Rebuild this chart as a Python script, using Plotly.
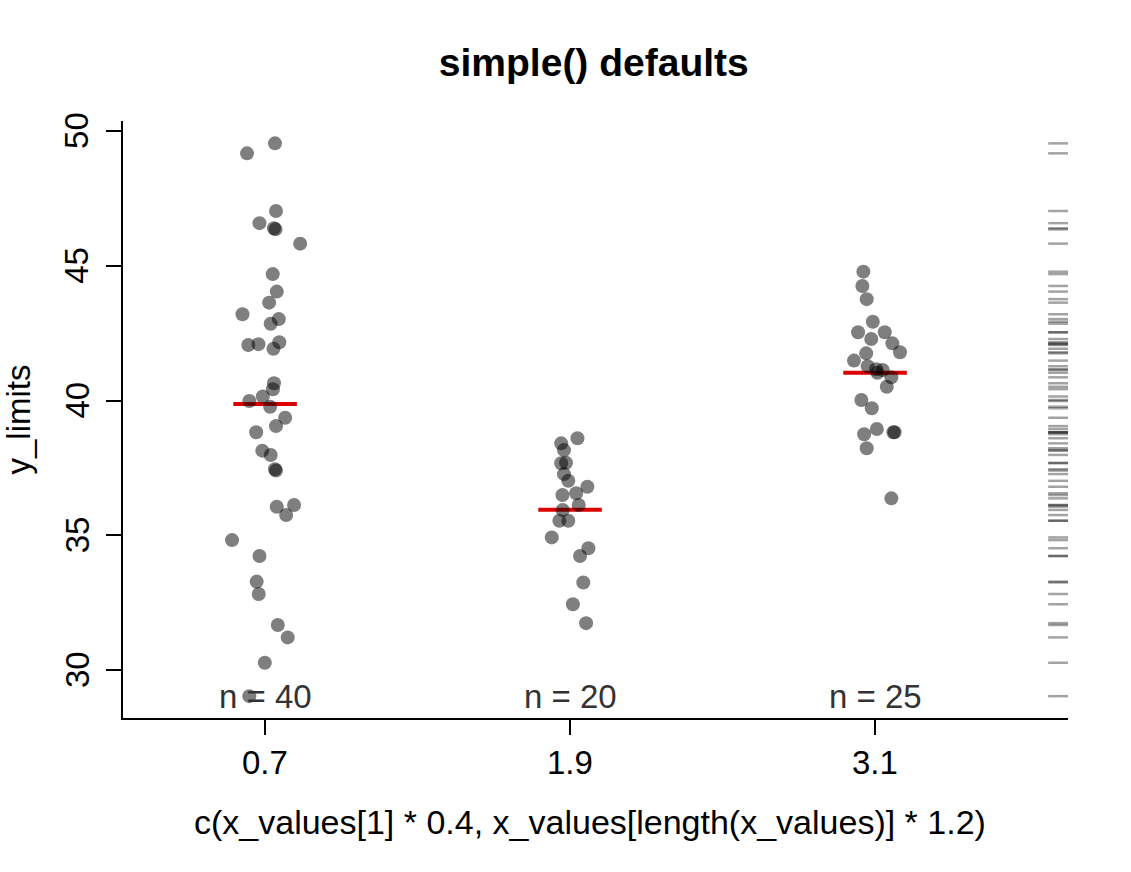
import numpy as np
import plotly.graph_objects as go

width = 1131
height = 872

# group centres (x tick values)
x_values = [0.7, 1.9, 3.1]

# group 1 (n = 40): jittered x and y values
g1_x = [0.629, 0.739, 0.743, 0.678, 0.735, 0.741, 0.838, 0.730, 0.746, 0.716,
        0.611, 0.754, 0.722, 0.634, 0.674, 0.756, 0.733, 0.735, 0.731, 0.691,
        0.638, 0.720, 0.779, 0.743, 0.665, 0.689, 0.722, 0.739, 0.743, 0.746,
        0.814, 0.783, 0.570, 0.678, 0.667, 0.675, 0.750, 0.789, 0.699, 0.638]
g1_y = [49.17, 49.54, 47.03, 46.58, 46.39, 46.35, 45.82, 44.69, 44.04, 43.63,
        43.20, 43.02, 42.85, 42.06, 42.09, 42.16, 41.92, 40.64, 40.42, 40.15,
        39.98, 39.77, 39.36, 39.05, 38.82, 38.14, 37.98, 37.45, 37.40, 36.06,
        36.12, 35.75, 34.82, 34.23, 33.28, 32.82, 31.67, 31.21, 30.27, 29.03]

# group 2 (n = 20)
g2_x = [1.929, 1.865, 1.876, 1.865, 1.884, 1.876, 1.893, 1.968, 1.870, 1.924,
        1.934, 1.871, 1.858, 1.893, 1.828, 1.972, 1.939, 1.952, 1.911, 1.963]
g2_y = [38.60, 38.41, 38.16, 37.67, 37.69, 37.27, 37.02, 36.80, 36.49, 36.56,
        36.12, 35.94, 35.54, 35.54, 34.92, 34.52, 34.23, 33.25, 32.44, 31.74]

# group 3 (n = 25)
g3_x = [3.054, 3.050, 3.067, 3.091, 3.033, 3.138, 3.085, 3.168, 3.198, 3.065,
        3.017, 3.071, 3.104, 3.109, 3.130, 3.164, 3.146, 3.046, 3.087, 3.107,
        3.057, 3.172, 3.177, 3.067, 3.164]
g3_y = [44.78, 44.25, 43.76, 42.92, 42.53, 42.53, 42.28, 42.12, 41.79, 41.75,
        41.48, 41.27, 41.16, 41.03, 41.13, 40.86, 40.51, 40.02, 39.71, 38.94,
        38.75, 38.82, 38.82, 38.23, 36.37]

y_ticks = [30, 35, 40, 45, 50]

x_title = 'c(x_values[1] * 0.4, x_values[length(x_values)] * 1.2)'
y_title = 'y_limits'

groups_x = [g1_x, g2_x, g3_x]
groups_y = [g1_y, g2_y, g3_y]

font = "Liberation Sans, Arial, sans-serif"
half = 0.125  # half width of the mean bar

fig = go.Figure()

all_y = []
for xc, gx, gy in zip(x_values, groups_x, groups_y):
    m = float(np.mean(gy))
    fig.add_trace(go.Scatter(
        x=[xc - half, xc + half], y=[m, m],
        mode='lines',
        line=dict(color='#dd0000', width=4),
        hoverinfo='skip',
        showlegend=False
    ))
    fig.add_trace(go.Scatter(
        x=gx, y=gy,
        mode='markers',
        marker=dict(size=14, color='rgba(0,0,0,0.5)', line=dict(width=0)),
        showlegend=False
    ))
    all_y += gy

# n = ... labels at the bottom of the data
y_min = min(all_y)
for xc, gy in zip(x_values, groups_y):
    fig.add_annotation(
        x=xc, y=y_min, text="n = %d" % len(gy),
        showarrow=False, yanchor='middle',
        font=dict(family=font, size=33, color='#333333')
    )

# tick labels placed by hand, R style (rotated on the y axis)
for v in y_ticks:
    fig.add_annotation(
        x=0, xref='paper', y=v, yref='y',
        xanchor='center', yanchor='middle', xshift=-46,
        text=str(v), textangle=-90, showarrow=False,
        font=dict(family=font, size=33, color='black')
    )
for v in x_values:
    fig.add_annotation(
        x=v, xref='x', y=0, yref='paper',
        xanchor='center', yanchor='middle', yshift=-44,
        text=str(v), showarrow=False,
        font=dict(family=font, size=33, color='black')
    )

# axis titles
fig.add_annotation(
    x=0, y=0.5, xref='paper', yref='paper',
    xanchor='center', yanchor='middle', xshift=-105,
    text=y_title, textangle=-90, showarrow=False,
    font=dict(family=font, size=33, color='black')
)
fig.add_annotation(
    x=0.494, y=0, xref='paper', yref='paper',
    xanchor='center', yanchor='middle', yshift=-104,
    text=x_title, showarrow=False,
    font=dict(family=font, size=34, color='black')
)

# rug on the right side
for v in all_y:
    fig.add_shape(
        type='line', xref='x domain', yref='y',
        x0=0.979, x1=1.0, y0=v, y1=v,
        line=dict(color='rgba(0,0,0,0.36)', width=2.5)
    )

fig.update_layout(
    width=width,
    height=height,
    margin=dict(l=123, r=63, t=121, b=154),
    plot_bgcolor='white',
    paper_bgcolor='white',
    font=dict(family=font, size=33, color='black'),
    title=dict(
        text='<b>simple() defaults</b>',
        x=0.525, xanchor='center',
        y=1 - 62 / height, yanchor='middle',
        font=dict(family=font, size=39, color='black')
    ),
    xaxis=dict(
        range=[0.141, 3.859],
        tickvals=x_values,
        showticklabels=False,
        showgrid=False, zeroline=False,
        showline=True, linecolor='black', linewidth=2,
        ticks='outside', ticklen=15, tickwidth=1.5, tickcolor='black',
        automargin=False
    ),
    yaxis=dict(
        range=[28.22, 50.37],
        tickvals=y_ticks,
        showticklabels=False,
        showgrid=False, zeroline=False,
        showline=True, linecolor='black', linewidth=2,
        ticks='outside', ticklen=15, tickwidth=1.5, tickcolor='black',
        automargin=False
    )
)

# drop the page's default body margin so the figure sits at the top-left corner
fig.write_html("out.html", config={'displayModeBar': False},
               post_script="document.body.style.margin='0';")
